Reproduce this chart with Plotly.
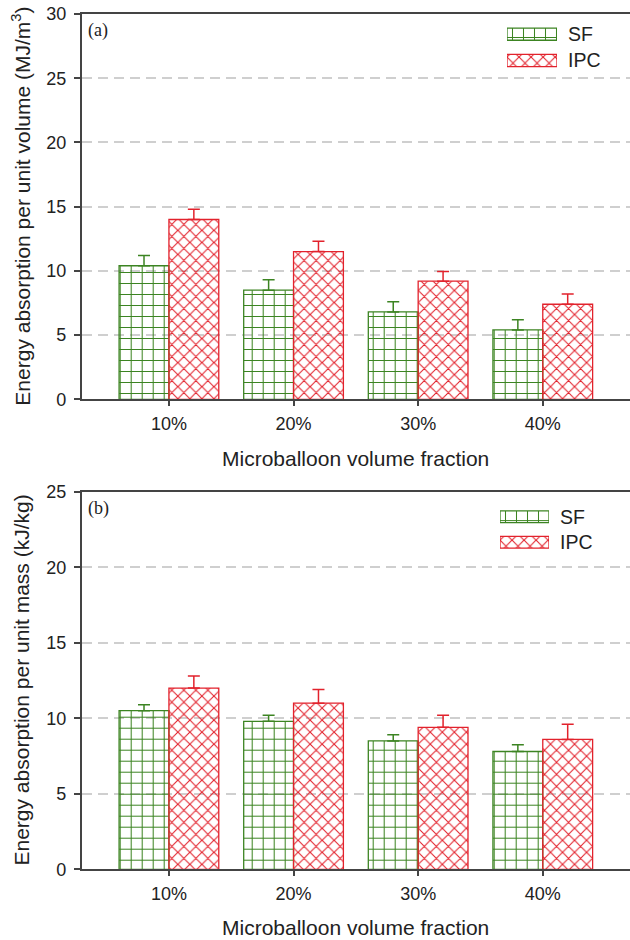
import plotly.graph_objects as go

categories = ["10%", "20%", "30%", "40%"]
series_names = ["SF", "IPC"]

vol_sf = [10.4, 8.5, 6.8, 5.4]
vol_sf_err = [0.8, 0.8, 0.8, 0.8]
vol_ipc = [14.0, 11.5, 9.2, 7.4]
vol_ipc_err = [0.8, 0.8, 0.75, 0.8]

mass_sf = [10.5, 9.8, 8.5, 7.8]
mass_sf_err = [0.4, 0.4, 0.4, 0.45]
mass_ipc = [12.0, 11.0, 9.4, 8.6]
mass_ipc_err = [0.8, 0.9, 0.8, 1.0]

GREEN = "#3c8422"
RED = "#e2222c"
COLORS = [GREEN, RED]
SHAPES = ["+", "x"]
SIZES = [11, 8.5]
SOLIDITY = [0.18, 0.24]
CLEAR = "rgba(255,255,255,0)"
W, H = 630, 940


def px_y(p):
    return 1 - p / H


fig = go.Figure()


def add_bars(vals, errs, i, xa, ya):
    fig.add_trace(go.Bar(
        x=categories, y=vals, name=series_names[i], xaxis=xa, yaxis=ya,
        showlegend=False,
        marker=dict(
            color=CLEAR,
            line=dict(color=COLORS[i], width=1.3),
            pattern=dict(shape=SHAPES[i], fgcolor=COLORS[i], bgcolor=CLEAR,
                         fgopacity=1, size=SIZES[i], solidity=SOLIDITY[i],
                         fillmode="replace"),
        ),
        error_y=dict(type="data", array=errs, arrayminus=[0] * len(errs),
                     symmetric=False, color=COLORS[i], thickness=1.5, width=6),
    ))


add_bars(vol_sf, vol_sf_err, 0, "x", "y")
add_bars(vol_ipc, vol_ipc_err, 1, "x", "y")
add_bars(mass_sf, mass_sf_err, 0, "x2", "y2")
add_bars(mass_ipc, mass_ipc_err, 1, "x2", "y2")

# legend keys (wide patterned swatches), one per panel
for xa, ya in (("x3", "y3"), ("x4", "y4")):
    fig.add_trace(go.Bar(
        y=series_names, x=[1] * len(series_names), orientation="h",
        xaxis=xa, yaxis=ya, showlegend=False, width=0.46, hoverinfo="skip",
        marker=dict(
            color=CLEAR,
            line=dict(color=COLORS, width=1.3),
            pattern=dict(shape=SHAPES, fgcolor=COLORS, bgcolor=CLEAR, fgopacity=1,
                         size=SIZES, solidity=SOLIDITY, fillmode="replace"),
        ),
    ))

xdom = [81.7 / W, 1.0]
top_dom = [px_y(399.3), px_y(14.0)]
bot_dom = [px_y(869.3), px_y(491.7)]

SANS = "Liberation Sans, Arial, sans-serif"
tick_font = dict(family=SANS, size=18, color="#222")
title_font = dict(family=SANS, size=21, color="#222")
legend_font = dict(family=SANS, size=19.5, color="#222")
serif_font = dict(family="Liberation Serif, Times New Roman, serif", size=18, color="#222")


def xaxis(anchor):
    return dict(domain=xdom, anchor=anchor, range=[-0.7, 3.7], type="category",
                showline=True, linecolor="#444", linewidth=1.5, mirror=True,
                ticks="outside", ticklen=5, tickcolor="#444", tickwidth=1.5,
                tickfont=tick_font, showgrid=False, zeroline=False, automargin=False,
                ticklabelstandoff=2)


def yaxis(anchor, dom, top, dtick):
    return dict(domain=dom, anchor=anchor, range=[0, top], dtick=dtick,
                showline=True, linecolor="#444", linewidth=1.5, mirror=False,
                ticks="outside", ticklen=6, tickcolor="#444", tickwidth=1.5,
                tickfont=tick_font, showgrid=True, gridcolor="#cfcfcf", gridwidth=1.5,
                griddash="10px,6px", zeroline=False, automargin=False,
                ticklabelstandoff=4)


def key_xaxis(anchor, x0, x1):
    return dict(domain=[x0 / W, x1 / W], anchor=anchor, range=[0, 1], visible=False,
                fixedrange=True)


def key_yaxis(anchor, y_top, y_bot):
    return dict(domain=[px_y(y_bot), px_y(y_top)], anchor=anchor, type="category",
                categoryorder="array", categoryarray=series_names[::-1],
                side="right", showline=False, showgrid=False, zeroline=False,
                ticks="", tickfont=legend_font, ticklabelstandoff=10,
                automargin=False, fixedrange=True)


annotations = [
    dict(text="Energy absorption per unit volume (MJ/m<sup>3</sup>)", textangle=-90,
         x=21 / W, y=(top_dom[0] + top_dom[1]) / 2, xref="paper", yref="paper",
         showarrow=False, font=title_font, xanchor="center", yanchor="middle"),
    dict(text="Energy absorption per unit mass (kJ/kg)", textangle=-90,
         x=21 / W, y=(bot_dom[0] + bot_dom[1]) / 2, xref="paper", yref="paper",
         showarrow=False, font=title_font, xanchor="center", yanchor="middle"),
    dict(text="Microballoon volume fraction", x=(xdom[0] + xdom[1]) / 2, y=px_y(458),
         xref="paper", yref="paper", showarrow=False, font=title_font,
         xanchor="center", yanchor="middle"),
    dict(text="Microballoon volume fraction", x=(xdom[0] + xdom[1]) / 2, y=px_y(927),
         xref="paper", yref="paper", showarrow=False, font=title_font,
         xanchor="center", yanchor="middle"),
    dict(text="(a)", x=86 / W, y=px_y(18), xref="paper", yref="paper", showarrow=False,
         font=serif_font, xanchor="left", yanchor="top"),
    dict(text="(b)", x=86 / W, y=px_y(496), xref="paper", yref="paper", showarrow=False,
         font=serif_font, xanchor="left", yanchor="top"),
]

fig.update_layout(
    width=W, height=H,
    margin=dict(l=0, r=0, t=0, b=0),
    paper_bgcolor="white", plot_bgcolor="rgba(0,0,0,0)",
    barmode="group", bargap=0.2, bargroupgap=0,
    showlegend=False,
    xaxis=xaxis("y"), yaxis=yaxis("x", top_dom, 30, 5),
    xaxis2=xaxis("y2"), yaxis2=yaxis("x2", bot_dom, 25, 5),
    xaxis3=key_xaxis("y3", 507, 557), yaxis3=key_yaxis("x3", 21.0, 73.7),
    xaxis4=key_xaxis("y4", 500, 549), yaxis4=key_yaxis("x4", 504.1, 554.9),
    annotations=annotations,
)

fig.write_html("out.html", config={"displayModeBar": False},
               post_script="document.body.style.margin='0';document.body.style.padding='0';")
